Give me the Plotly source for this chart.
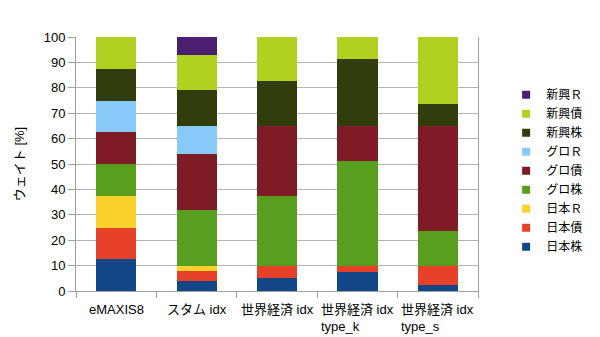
import plotly.graph_objects as go

categories = ["eMAXIS8", "スタム idx", "世界経済 idx", "世界経済 idx<br>type_k", "世界経済 idx<br>type_s"]
series_names = ["日本株", "日本債", "日本R", "グロ株", "グロ債", "グロR", "新興株", "新興債", "新興R"]
legend_labels = ["日本株", "日本債", "日本Ｒ", "グロ株", "グロ債", "グロＲ", "新興株", "新興債", "新興Ｒ"]
colors = ["#134686", "#e8412a", "#fbd22b", "#589f1f", "#7e1b24", "#87c9f9", "#313e0b", "#b0d11f", "#4b1f70"]

values = {
    "日本株": [12.5, 4, 5, 7.6, 2.5],
    "日本債": [12.5, 4, 5, 2.4, 7.5],
    "日本R":  [12.5, 2, 0, 0, 0],
    "グロ株": [12.5, 22, 27.5, 41.2, 13.7],
    "グロ債": [12.5, 22, 27.5, 13.8, 41.3],
    "グロR":  [12.5, 11, 0, 0, 0],
    "新興株": [12.5, 14, 17.5, 26.2, 8.6],
    "新興債": [12.5, 14, 17.5, 8.8, 26.4],
    "新興R":  [0, 7, 0, 0, 0],
}
y_ticks = [0, 10, 20, 30, 40, 50, 60, 70, 80, 90, 100]

FONT = "Liberation Sans, Arial, Noto Sans CJK JP, sans-serif"

fig = go.Figure()
for name, color in zip(series_names, colors):
    fig.add_trace(go.Bar(
        x=categories, y=values[name], name=name, marker_color=color,
        marker_line_width=0, showlegend=False, width=0.5,
    ))
# legend entries with small square swatches
for name, label, color in zip(series_names, legend_labels, colors):
    fig.add_trace(go.Scatter(
        x=[None], y=[None], mode="markers", name=label,
        marker=dict(symbol="square", size=8, color=color),
    ))

for cat in categories:
    fig.add_annotation(
        x=cat, xref="x", y=0, yref="paper", yshift=-9, yanchor="top",
        text=cat, showarrow=False, align="left", xanchor="center",
        font=dict(family=FONT, size=13, color="#000"),
    )

fig.update_layout(
    width=600, height=337,
    barmode="stack",
    margin=dict(l=76, r=98, t=37, b=46),
    plot_bgcolor="white", paper_bgcolor="white",
    font=dict(family=FONT, size=13, color="#000"),
    legend=dict(
        traceorder="reversed", x=1.07, xanchor="left", y=0.83, yanchor="top",
        font=dict(family=FONT, size=12, color="#000"),
        itemwidth=30, tracegroupgap=0, bgcolor="rgba(0,0,0,0)",
    ),
    showlegend=True,
)
fig.update_xaxes(
    type="category", showticklabels=False, ticks="outside", tickson="boundaries",
    ticklen=6, tickcolor="#a0a0a0", showline=True, linecolor="#a0a0a0",
    showgrid=False,
)
fig.update_yaxes(
    range=[0, 100], tickvals=y_ticks, ticks="outside", ticklen=7,
    tickcolor="#a0a0a0", showline=True, linecolor="#a0a0a0", mirror=True,
    showgrid=True, gridcolor="#b3b3b3", gridwidth=1, zeroline=False,
    title=dict(text="ウェイト [%]", font=dict(family=FONT, size=13), standoff=16),
    tickfont=dict(family=FONT, size=13),
)

fig.write_html("out.html")
